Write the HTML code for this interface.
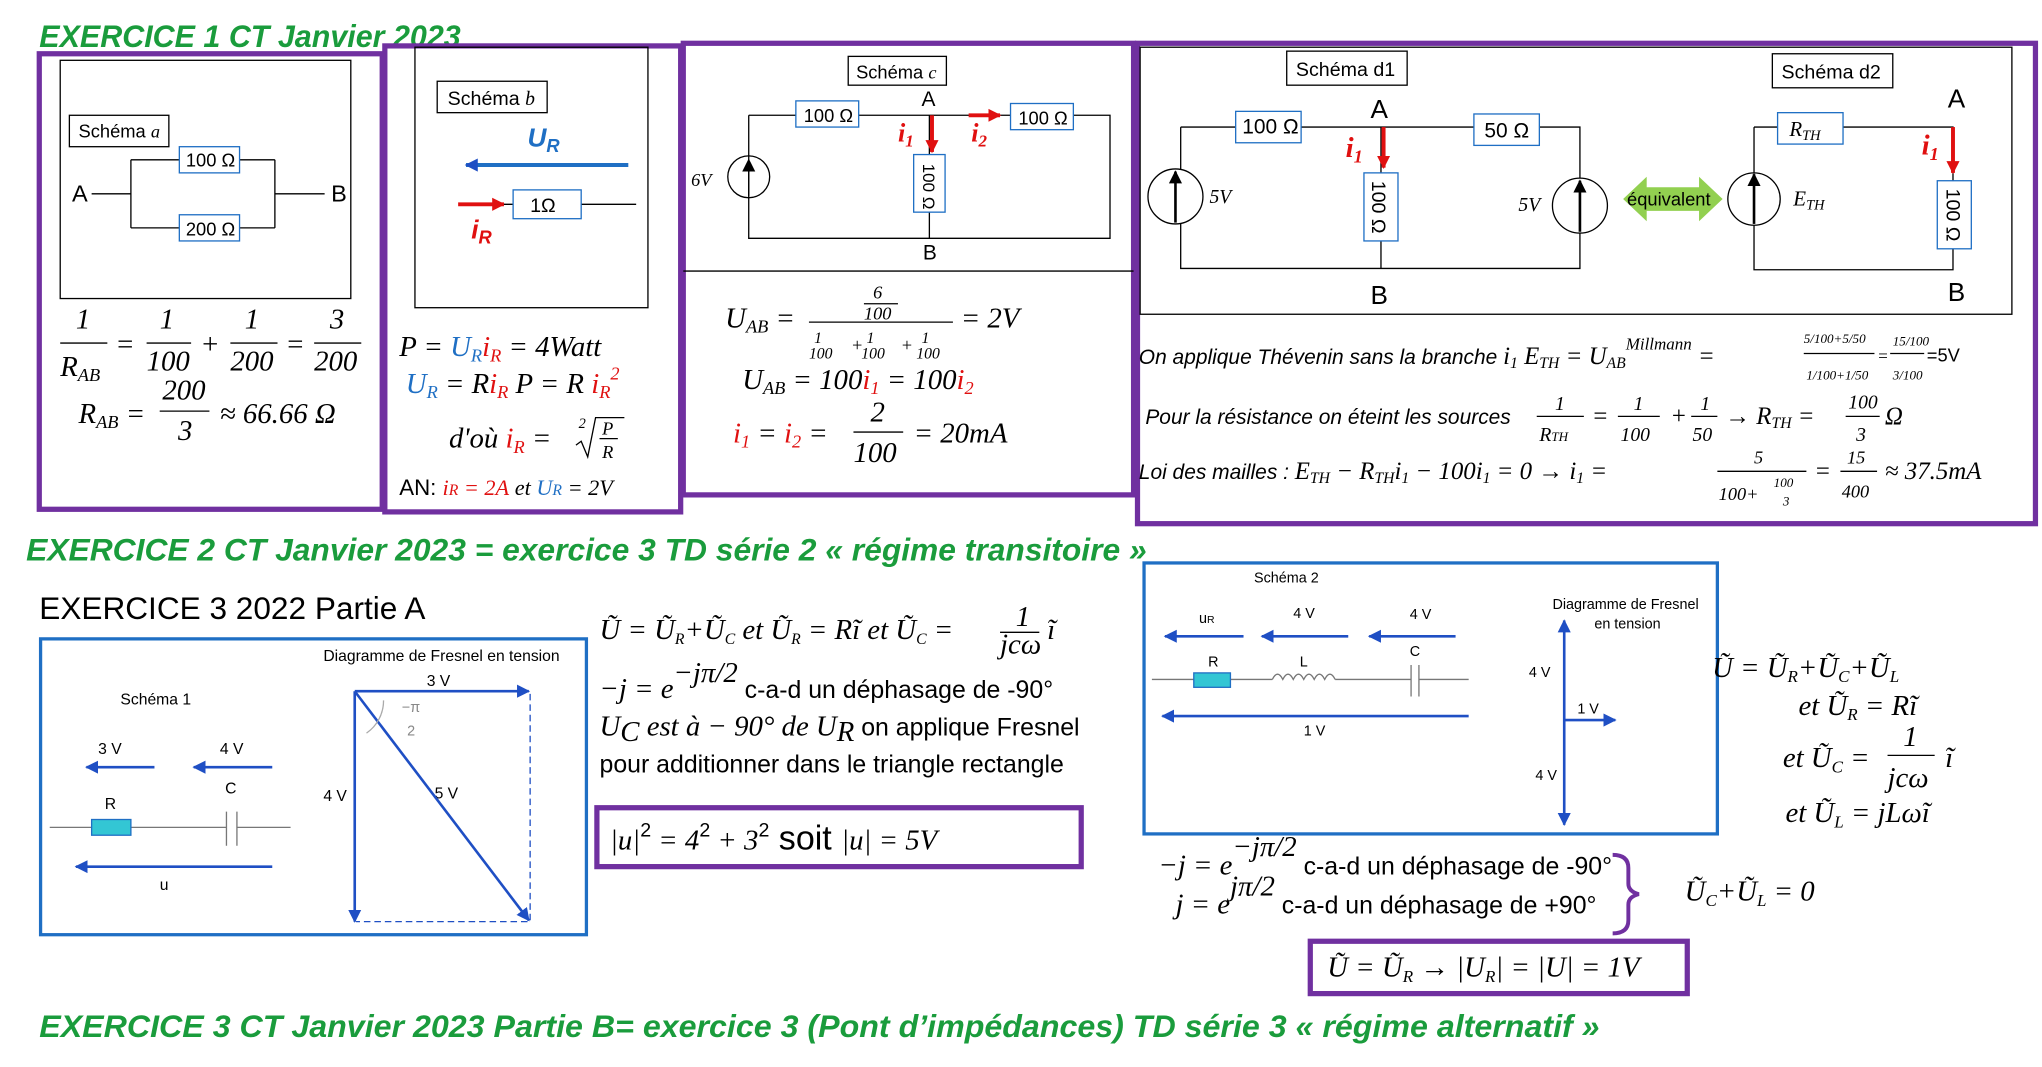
<!DOCTYPE html>
<html><head><meta charset="utf-8">
<style>
html,body{margin:0;padding:0;background:#fff;}
svg{display:block;font-family:"Liberation Sans",sans-serif;}
.g{fill:#1a9c3c;font-weight:bold;font-style:italic;font-size:24px;}
.m{font-family:"Liberation Serif",serif;font-style:italic;font-size:22px;}
.r{fill:#e01010}.b{fill:#1f6fc4}
</style></head><body>
<svg width="2042" height="1067" viewBox="0 0 1560 815" xmlns="http://www.w3.org/2000/svg">
<defs>
<marker id="ar" markerUnits="userSpaceOnUse" markerWidth="12" markerHeight="12" refX="9" refY="6" orient="auto"><path d="M0,1 L10,6 L0,11 z" fill="#e01010"/></marker>
<marker id="ab" markerUnits="userSpaceOnUse" markerWidth="12" markerHeight="12" refX="9" refY="6" orient="auto"><path d="M0,1 L10,6 L0,11 z" fill="#1f4fc4"/></marker>
<marker id="ak" markerUnits="userSpaceOnUse" markerWidth="12" markerHeight="12" refX="9" refY="6" orient="auto"><path d="M0,1 L10,6 L0,11 z" fill="#000"/></marker>
</defs>
<rect width="1560" height="815" fill="#fff"/>
<text class="g" x="30" y="36" textLength="322" lengthAdjust="spacingAndGlyphs">EXERCICE 1 CT Janvier 2023</text>
<g fill="none" stroke="#7030A0" stroke-width="4">
<rect x="30" y="41" width="262" height="348"/>
<rect x="294" y="35" width="226" height="356"/>
<rect x="522" y="33" width="344" height="345"/>
<rect x="869" y="33" width="686" height="367"/>
<rect x="456" y="617" width="370" height="45"/>
<rect x="1001" y="719" width="288" height="40"/>
</g>
<g fill="none" stroke="#000" stroke-width="1">
<rect x="46" y="46" width="222" height="182"/>
<rect x="317" y="36" width="178" height="199"/>
<line x1="522" y1="207" x2="866" y2="207"/>
<rect x="871" y="36" width="666" height="204"/>
</g>
<!-- Schema a -->
<g stroke="#000" fill="none">
<rect x="53" y="88" width="76" height="24" fill="#fff"/>
<path d="M70 148 H100 M100 122 V174 M100 122 H137 M100 174 H137 M183 122 H210 M183 174 H210 M210 122 V174 M210 148 H248"/>
<rect x="137" y="112" width="46" height="20" stroke="#1f6fc4" fill="#fff"/>
<rect x="137" y="164" width="46" height="20" stroke="#1f6fc4" fill="#fff"/>
</g>
<text x="60" y="105" font-size="14">Schéma <tspan font-style="italic" font-family="Liberation Serif">a</tspan></text>
<text x="142" y="127" font-size="14">100 Ω</text>
<text x="142" y="180" font-size="14">200 Ω</text>
<text x="55" y="154" font-size="18">A</text><text x="253" y="154" font-size="18">B</text>
<g class="m">
<text x="58" y="251">1</text><line x1="46" y1="262" x2="82" y2="262" stroke="#000"/><text x="46" y="287">R<tspan font-size="14" dy="4">AB</tspan></text>
<text x="88" y="270">=</text>
<text x="122" y="251">1</text><line x1="112" y1="262" x2="146" y2="262" stroke="#000"/><text x="112" y="283">100</text>
<text x="153" y="270">+</text>
<text x="187" y="251">1</text><line x1="176" y1="262" x2="212" y2="262" stroke="#000"/><text x="176" y="283">200</text>
<text x="218" y="270">=</text>
<text x="252" y="251">3</text><line x1="240" y1="262" x2="276" y2="262" stroke="#000"/><text x="240" y="283">200</text>
<text x="60" y="323">R<tspan font-size="14" dy="4">AB</tspan><tspan dy="-4"> =</tspan></text>
<text x="124" y="305">200</text><line x1="122" y1="314" x2="160" y2="314" stroke="#000"/><text x="136" y="336">3</text>
<text x="168" y="323">≈ 66.66 Ω</text>
</g>
<!-- Schema b -->
<rect x="334" y="62" width="84" height="24" fill="#fff" stroke="#000"/>
<text x="342" y="80" font-size="15">Schéma <tspan font-style="italic" font-family="Liberation Serif">b</tspan></text>
<text x="403" y="112" font-size="20" font-weight="bold" font-style="italic" fill="#1f6fc4">U<tspan font-size="14" dy="4">R</tspan></text>
<line x1="480" y1="126" x2="356" y2="126" stroke="#1f6fc4" stroke-width="3" marker-end="url(#ab)"/>
<line x1="350" y1="156" x2="385" y2="156" stroke="#e01010" stroke-width="3" marker-end="url(#ar)"/>
<path d="M385 156 H392 M444 156 H486" stroke="#000"/>
<rect x="392" y="145" width="52" height="22" fill="#fff" stroke="#1f6fc4"/>
<text x="405" y="162" font-size="15">1Ω</text>
<text x="360" y="182" font-size="20" font-weight="bold" font-style="italic" fill="#e01010">i<tspan font-size="14" dy="4">R</tspan></text>
<g class="m">
<text x="305" y="272">P = <tspan class="b">U</tspan><tspan class="b" font-size="14" dy="4">R</tspan><tspan class="r" dy="-4">i</tspan><tspan class="r" font-size="14" dy="4">R</tspan><tspan dy="-4"> = 4Watt</tspan></text>
<text x="310" y="300"><tspan class="b">U</tspan><tspan class="b" font-size="14" dy="4">R</tspan><tspan dy="-4"> = R</tspan><tspan class="r">i</tspan><tspan class="r" font-size="14" dy="4">R</tspan><tspan dy="-4">  P = R </tspan><tspan class="r">i</tspan><tspan class="r" font-size="14" dy="4">R</tspan><tspan class="r" font-size="14" dy="-14">2</tspan></text>
<text x="343" y="342">d'où <tspan class="r">i</tspan><tspan class="r" font-size="14" dy="4">R</tspan><tspan dy="-4"> =</tspan></text>
<text x="442" y="327" font-size="11">2</text>
<path d="M440 340 l4 -3 l5 12 l6 -30 h22" stroke="#000" fill="none"/>
<text x="460" y="332" font-size="14">P</text><line x1="458" y1="335" x2="472" y2="335" stroke="#000"/><text x="460" y="350" font-size="14">R</text>
</g>
<text x="305" y="378" font-size="17">AN: <tspan class="r" font-family="Liberation Serif" font-style="italic">i<tspan font-size="12">R</tspan> = 2A</tspan><tspan font-family="Liberation Serif" font-style="italic"> et </tspan><tspan class="b" font-family="Liberation Serif" font-style="italic">U<tspan font-size="12">R</tspan></tspan><tspan font-family="Liberation Serif" font-style="italic"> = 2V</tspan></text>
<!-- Schema c -->
<rect x="648" y="43" width="75" height="22" fill="#fff" stroke="#000"/>
<text x="654" y="60" font-size="14">Schéma <tspan font-style="italic" font-family="Liberation Serif">c</tspan></text>
<g stroke="#000" fill="none">
<path d="M572 88 H608 M656 88 H772 M820 88 H848 V182 H572 V88 M572 115 V120 M572 150 V182 M710 88 V118 M710 162 V182"/>
<circle cx="572" cy="135" r="16"/>
<line x1="572" y1="150" x2="572" y2="122" marker-end="url(#ak)"/>
<rect x="608" y="77" width="48" height="20" stroke="#1f6fc4" fill="#fff"/>
<rect x="772" y="79" width="48" height="20" stroke="#1f6fc4" fill="#fff"/>
<rect x="698" y="118" width="24" height="44" stroke="#1f6fc4" fill="#fff"/>
</g>
<text x="614" y="93" font-size="14">100 Ω</text><text x="778" y="95" font-size="14">100 Ω</text>
<text x="0" y="0" font-size="13" transform="translate(705,125) rotate(90)">100 Ω</text>
<text x="704" y="81" font-size="16">A</text><text x="705" y="198" font-size="16">B</text>
<text x="528" y="142" font-size="14" font-style="italic" font-family="Liberation Serif">6V</text>
<line x1="712" y1="88" x2="712" y2="116" stroke="#e01010" stroke-width="3" marker-end="url(#ar)"/>
<line x1="740" y1="88" x2="764" y2="88" stroke="#e01010" stroke-width="3" marker-end="url(#ar)"/>
<text x="686" y="108" class="r" font-size="20" font-weight="bold" font-style="italic" font-family="Liberation Serif">i<tspan font-size="13" dy="4">1</tspan></text>
<text x="742" y="108" class="r" font-size="20" font-weight="bold" font-style="italic" font-family="Liberation Serif">i<tspan font-size="13" dy="4">2</tspan></text>
<g class="m">
<text x="554" y="250">U<tspan font-size="14" dy="4">AB</tspan><tspan dy="-4"> =</tspan></text>
<text x="667" y="228" font-size="14">6</text><line x1="660" y1="232" x2="686" y2="232" stroke="#000"/><text x="660" y="244" font-size="14">100</text>
<line x1="618" y1="246" x2="728" y2="246" stroke="#000"/>
<text x="622" y="262" font-size="12">1</text><text x="618" y="274" font-size="12">100</text><text x="650" y="268" font-size="14">+</text><text x="662" y="262" font-size="12">1</text><text x="658" y="274" font-size="12">100</text><text x="688" y="268" font-size="14">+</text><text x="704" y="262" font-size="12">1</text><text x="700" y="274" font-size="12">100</text>
<text x="734" y="250">= 2V</text>
<text x="567" y="297">U<tspan font-size="14" dy="4">AB</tspan><tspan dy="-4"> = 100</tspan><tspan class="r">i</tspan><tspan class="r" font-size="14" dy="4">1</tspan><tspan dy="-4"> = 100</tspan><tspan class="r">i</tspan><tspan class="r" font-size="14" dy="4">2</tspan></text>
<text x="560" y="338"><tspan class="r">i</tspan><tspan class="r" font-size="14" dy="4">1</tspan><tspan dy="-4"> = </tspan><tspan class="r">i</tspan><tspan class="r" font-size="14" dy="4">2</tspan><tspan dy="-4"> =</tspan></text>
<text x="665" y="322">2</text><line x1="652" y1="330" x2="690" y2="330" stroke="#000"/><text x="652" y="353">100</text>
<text x="698" y="338">= 20mA</text>
</g>
<!-- Schema d -->
<rect x="983" y="39" width="92" height="26" fill="#fff" stroke="#000"/>
<text x="990" y="58" font-size="15">Schéma d1</text>
<rect x="1354" y="41" width="92" height="26" fill="#fff" stroke="#000"/>
<text x="1361" y="60" font-size="15">Schéma d2</text>
<g stroke="#000" fill="none">
<path d="M902 97 H944 M994 97 H1126 M1176 97 H1207 V205 H902 V97 M902 130 V133 M902 167 V205 M1055 97 V132 M1055 184 V205"/>
<circle cx="898" cy="150" r="21" fill="#fff"/><line x1="898" y1="170" x2="898" y2="131" stroke-width="2" marker-end="url(#ak)"/>
<circle cx="1207" cy="157" r="21" fill="#fff"/><line x1="1207" y1="177" x2="1207" y2="138" stroke-width="2" marker-end="url(#ak)"/>
<rect x="944" y="85" width="50" height="24" stroke="#1f6fc4" fill="#fff"/>
<rect x="1126" y="87" width="50" height="24" stroke="#1f6fc4" fill="#fff"/>
<rect x="1042" y="132" width="26" height="52" stroke="#1f6fc4" fill="#fff"/>
<path d="M1340 97 H1358 M1408 97 H1492 V138 M1492 190 V206 H1340 V97"/>
<circle cx="1340" cy="152" r="20" fill="#fff"/><line x1="1340" y1="171" x2="1340" y2="133" stroke-width="2" marker-end="url(#ak)"/>
<rect x="1358" y="86" width="50" height="24" stroke="#1f6fc4" fill="#fff"/>
<rect x="1480" y="138" width="26" height="52" stroke="#1f6fc4" fill="#fff"/>
</g>
<text x="949" y="102" font-size="16">100 Ω</text><text x="1134" y="105" font-size="16">50 Ω</text>
<text font-size="15" transform="translate(1048,138) rotate(90)">100 Ω</text>
<text font-size="15" transform="translate(1487,144) rotate(90)">100 Ω</text>
<text x="1367" y="104" font-size="16" font-style="italic" font-family="Liberation Serif">R<tspan font-size="11" dy="3">TH</tspan></text>
<text x="1370" y="157" font-size="16" font-style="italic" font-family="Liberation Serif">E<tspan font-size="11" dy="3">TH</tspan></text>
<text x="1047" y="90" font-size="20">A</text><text x="1047" y="232" font-size="20">B</text>
<text x="1488" y="82" font-size="20">A</text><text x="1488" y="230" font-size="20">B</text>
<text x="924" y="155" font-size="15" font-style="italic" font-family="Liberation Serif">5V</text>
<text x="1160" y="161" font-size="15" font-style="italic" font-family="Liberation Serif">5V</text>
<line x1="1057" y1="97" x2="1057" y2="128" stroke="#e01010" stroke-width="3" marker-end="url(#ar)"/>
<text x="1028" y="120" class="r" font-size="22" font-weight="bold" font-style="italic" font-family="Liberation Serif">i<tspan font-size="14" dy="4">1</tspan></text>
<line x1="1492" y1="97" x2="1492" y2="132" stroke="#e01010" stroke-width="3" marker-end="url(#ar)"/>
<text x="1468" y="118" class="r" font-size="22" font-weight="bold" font-style="italic" font-family="Liberation Serif">i<tspan font-size="14" dy="4">1</tspan></text>
<path d="M1240 152 L1258 135 V143 H1298 V135 L1316 152 L1298 169 V161 H1258 V169 z" fill="#92d050"/>
<text x="1243" y="157" font-size="14">équivalent</text>
<g font-family="Liberation Serif" font-style="italic" font-size="19">
<text x="870" y="278" font-family="Liberation Sans" font-size="16">On applique Thévenin sans la branche <tspan font-family="Liberation Serif" font-size="19">i<tspan font-size="12" dy="3">1</tspan><tspan dy="-3">  E</tspan><tspan font-size="12" dy="3">TH</tspan><tspan dy="-3"> = U</tspan><tspan font-size="12" dy="3">AB</tspan><tspan font-size="13" dy="-14">Millmann</tspan><tspan dy="11"> =</tspan></tspan></text>
<text x="1378" y="262" font-size="10">5/100+5/50</text><line x1="1378" y1="270" x2="1432" y2="270" stroke="#000"/><text x="1380" y="290" font-size="10">1/100+1/50</text>
<text x="1434" y="276" font-size="13">=</text><text x="1446" y="264" font-size="10">15/100</text><line x1="1444" y1="270" x2="1470" y2="270" stroke="#000"/><text x="1446" y="290" font-size="10">3/100</text>
<text x="1472" y="276" font-size="14" font-style="normal" font-family="Liberation Sans">=5V</text>
<text x="875" y="324" font-family="Liberation Sans" font-size="16">Pour la résistance on éteint les sources</text>
<text x="1188" y="313" font-size="15">1</text><line x1="1174" y1="318" x2="1210" y2="318" stroke="#000"/><text x="1176" y="337" font-size="15">R<tspan font-size="10">TH</tspan></text>
<text x="1216" y="324">=</text>
<text x="1248" y="313" font-size="15">1</text><line x1="1236" y1="318" x2="1268" y2="318" stroke="#000"/><text x="1238" y="337" font-size="15">100</text>
<text x="1276" y="324">+</text>
<text x="1299" y="313" font-size="15">1</text><line x1="1292" y1="318" x2="1312" y2="318" stroke="#000"/><text x="1293" y="337" font-size="15">50</text>
<text x="1318" y="324">→ R<tspan font-size="12" dy="3">TH</tspan><tspan dy="-3"> =</tspan></text>
<text x="1412" y="312" font-size="15">100</text><line x1="1410" y1="318" x2="1436" y2="318" stroke="#000"/><text x="1418" y="337" font-size="15">3</text>
<text x="1440" y="324">Ω</text>
<text x="870" y="366"><tspan font-family="Liberation Sans" font-size="16">Loi des mailles : </tspan>E<tspan font-size="12" dy="3">TH</tspan><tspan dy="-3"> − R</tspan><tspan font-size="12" dy="3">TH</tspan><tspan dy="-3">i</tspan><tspan font-size="12" dy="3">1</tspan><tspan dy="-3"> − 100i</tspan><tspan font-size="12" dy="3">1</tspan><tspan dy="-3"> = 0 → i</tspan><tspan font-size="12" dy="3">1</tspan><tspan dy="-3"> =</tspan></text>
<text x="1340" y="354" font-size="14">5</text><line x1="1312" y1="360" x2="1380" y2="360" stroke="#000"/><text x="1313" y="382" font-size="14">100+</text><text x="1355" y="372" font-size="10">100</text><text x="1362" y="386" font-size="10">3</text>
<text x="1386" y="366">=</text><text x="1411" y="354" font-size="14">15</text><line x1="1406" y1="360" x2="1434" y2="360" stroke="#000"/><text x="1407" y="380" font-size="14">400</text>
<text x="1440" y="366">≈ 37.5mA</text>
</g>
<text class="g" x="20" y="428" textLength="856" lengthAdjust="spacingAndGlyphs">EXERCICE 2 CT Janvier 2023 = exercice 3 TD série 2 « régime transitoire »</text>
<text x="30" y="473" font-size="24" textLength="295" lengthAdjust="spacingAndGlyphs">EXERCICE 3 2022 Partie A</text>
<!-- Schema 1 -->
<rect x="31" y="488" width="417" height="226" fill="none" stroke="#1f6fc4" stroke-width="2.5"/>
<text x="92" y="538" font-size="12">Schéma 1</text>
<text x="247" y="505" font-size="12">Diagramme de Fresnel en tension</text>
<text x="75" y="576" font-size="12">3 V</text><text x="168" y="576" font-size="12">4 V</text>
<line x1="118" y1="586" x2="66" y2="586" stroke="#1f4fc4" stroke-width="2" marker-end="url(#ab)"/>
<line x1="208" y1="586" x2="148" y2="586" stroke="#1f4fc4" stroke-width="2" marker-end="url(#ab)"/>
<text x="80" y="618" font-size="12">R</text><text x="172" y="606" font-size="12">C</text>
<path d="M38 632 H70 M100 632 H173 M181 632 H222 M173 620 V646 M181 620 V646" stroke="#777" fill="none"/>
<rect x="70" y="626" width="30" height="12" fill="#33c6d4" stroke="#1f6fc4"/>
<line x1="208" y1="662" x2="58" y2="662" stroke="#1f4fc4" stroke-width="2" marker-end="url(#ab)"/>
<text x="122" y="680" font-size="12">u</text>
<text x="326" y="524" font-size="12">3 V</text><text x="247" y="612" font-size="12">4 V</text><text x="332" y="610" font-size="12">5 V</text>
<line x1="271" y1="528" x2="404" y2="528" stroke="#1f4fc4" stroke-width="2" marker-end="url(#ab)"/>
<line x1="271" y1="528" x2="271" y2="704" stroke="#1f4fc4" stroke-width="2" marker-end="url(#ab)"/>
<line x1="271" y1="528" x2="404" y2="703" stroke="#1f4fc4" stroke-width="2" marker-end="url(#ab)"/>
<path d="M405 530 V704 H272" stroke="#1f4fc4" stroke-dasharray="5,3" fill="none"/>
<path d="M293 535 A30 30 0 0 1 280 560" stroke="#aaa" fill="none"/>
<text x="307" y="544" font-size="11" fill="#888">−π</text><text x="311" y="562" font-size="11" fill="#888">2</text>
<!-- middle text -->
<g font-size="19">
<text x="458" y="488" class="m" font-size="20">Ũ = Ũ<tspan font-size="12" dy="4">R</tspan><tspan dy="-4">+Ũ</tspan><tspan font-size="12" dy="4">C</tspan><tspan dy="-4"> et Ũ</tspan><tspan font-size="12" dy="4">R</tspan><tspan dy="-4"> = Rĩ  et Ũ</tspan><tspan font-size="12" dy="4">C</tspan><tspan dy="-4"> = </tspan></text>
<text x="776" y="478" class="m" font-size="14">1</text><line x1="764" y1="483" x2="794" y2="483" stroke="#000"/><text x="764" y="499" class="m" font-size="14">jcω</text><text x="800" y="488" class="m" font-size="20">ĩ</text>
<text x="458" y="533"><tspan class="m" font-size="20">−j = e</tspan><tspan class="m" font-size="12" dy="-12">−jπ/2</tspan><tspan dy="12"> c-a-d un déphasage de -90°</tspan></text>
<text x="458" y="562"><tspan class="m" font-size="20">U</tspan><tspan class="m" font-size="12" dy="4">C</tspan><tspan class="m" font-size="20" dy="-4"> est à  − 90° de U</tspan><tspan class="m" font-size="12" dy="4">R</tspan><tspan dy="-4"> on applique Fresnel</tspan></text>
<text x="458" y="590">pour additionner dans le triangle rectangle</text>
</g>
<text x="466" y="649" font-size="26"><tspan class="m" font-size="26">|u|</tspan><tspan font-size="15" dy="-10">2</tspan><tspan class="m" font-size="26" dy="10"> = 4</tspan><tspan font-size="15" dy="-10">2</tspan><tspan class="m" font-size="26" dy="10"> + 3</tspan><tspan font-size="15" dy="-10">2</tspan><tspan dy="10"> soit </tspan><tspan class="m" font-size="26">|u| = 5V</tspan></text>
<!-- Schema 2 -->
<rect x="874" y="430" width="438" height="207" fill="none" stroke="#1f6fc4" stroke-width="2.5"/>
<text x="958" y="445" font-size="11">Schéma 2</text>
<text x="1186" y="465" font-size="11">Diagramme de Fresnel</text><text x="1218" y="480" font-size="11">en tension</text>
<text x="916" y="476" font-size="11">u<tspan font-size="8">R</tspan></text><text x="988" y="472" font-size="11">4 V</text><text x="1077" y="473" font-size="11">4 V</text>
<line x1="950" y1="486" x2="890" y2="486" stroke="#1f4fc4" stroke-width="2" marker-end="url(#ab)"/>
<line x1="1030" y1="486" x2="964" y2="486" stroke="#1f4fc4" stroke-width="2" marker-end="url(#ab)"/>
<line x1="1112" y1="486" x2="1046" y2="486" stroke="#1f4fc4" stroke-width="2" marker-end="url(#ab)"/>
<text x="923" y="509" font-size="11">R</text><text x="993" y="509" font-size="11">L</text><text x="1077" y="501" font-size="11">C</text>
<path d="M880 519 H912 M940 519 H972 M1020 519 H1078 M1084 519 H1122 M1078 508 V532 M1084 508 V532" stroke="#777" fill="none"/>
<path d="M972 519 q4 -8 8 0 q4 -8 8 0 q4 -8 8 0 q4 -8 8 0 q4 -8 8 0 q4 -8 8 0" stroke="#777" fill="none"/>
<rect x="912" y="514" width="28" height="11" fill="#33c6d4" stroke="#1f6fc4"/>
<line x1="1122" y1="547" x2="888" y2="547" stroke="#1f4fc4" stroke-width="2" marker-end="url(#ab)"/>
<text x="996" y="562" font-size="11">1 V</text>
<line x1="1195" y1="550" x2="1195" y2="474" stroke="#1f4fc4" stroke-width="2" marker-end="url(#ab)"/>
<line x1="1195" y1="550" x2="1195" y2="630" stroke="#1f4fc4" stroke-width="2" marker-end="url(#ab)"/>
<line x1="1195" y1="550" x2="1234" y2="550" stroke="#1f4fc4" stroke-width="2" marker-end="url(#ab)"/>
<text x="1168" y="517" font-size="11">4 V</text><text x="1205" y="545" font-size="11">1 V</text><text x="1173" y="596" font-size="11">4 V</text>
<!-- right formulas -->
<g class="m" font-size="21">
<text x="1308" y="517">Ũ = Ũ<tspan font-size="13" dy="4">R</tspan><tspan dy="-4">+Ũ</tspan><tspan font-size="13" dy="4">C</tspan><tspan dy="-4">+Ũ</tspan><tspan font-size="13" dy="4">L</tspan></text>
<text x="1374" y="546">et Ũ<tspan font-size="13" dy="4">R</tspan><tspan dy="-4"> = Rĩ</tspan></text>
<text x="1362" y="586">et Ũ<tspan font-size="13" dy="4">C</tspan><tspan dy="-4"> =</tspan></text>
<text x="1454" y="570">1</text><line x1="1442" y1="577" x2="1478" y2="577" stroke="#000"/><text x="1442" y="601">jcω</text><text x="1486" y="586">ĩ</text>
<text x="1364" y="628">et  Ũ<tspan font-size="13" dy="4">L</tspan><tspan dy="-4"> = jLωĩ</tspan></text>
</g>
<text x="885" y="668" font-size="19"><tspan class="m" font-size="20">−j = e</tspan><tspan class="m" font-size="12" dy="-14">−jπ/2</tspan><tspan dy="14"> c-a-d un déphasage de -90°</tspan></text>
<text x="898" y="698" font-size="19"><tspan class="m" font-size="20">j = e</tspan><tspan class="m" font-size="12" dy="-14">jπ/2</tspan><tspan dy="14"> c-a-d un déphasage de +90°</tspan></text>
<path d="M1232 653 q12 0 12 10 v12 q0 6 8 8 q-8 2 -8 8 v12 q0 10 -12 10" stroke="#7030A0" stroke-width="3" fill="none"/>
<text x="1287" y="688" class="m" font-size="20">Ũ<tspan font-size="13" dy="4">C</tspan><tspan dy="-4">+Ũ</tspan><tspan font-size="13" dy="4">L</tspan><tspan dy="-4"> = 0</tspan></text>
<text x="1014" y="746" class="m" font-size="21">Ũ = Ũ<tspan font-size="13" dy="4">R</tspan><tspan dy="-4"> → |U</tspan><tspan font-size="13" dy="4">R</tspan><tspan dy="-4">| = |U| = 1V</tspan></text>
<text class="g" x="30" y="792" textLength="1192" lengthAdjust="spacingAndGlyphs">EXERCICE 3 CT Janvier 2023 Partie B= exercice 3 (Pont d’impédances) TD série 3 « régime alternatif »</text>
</svg>
</body></html>
